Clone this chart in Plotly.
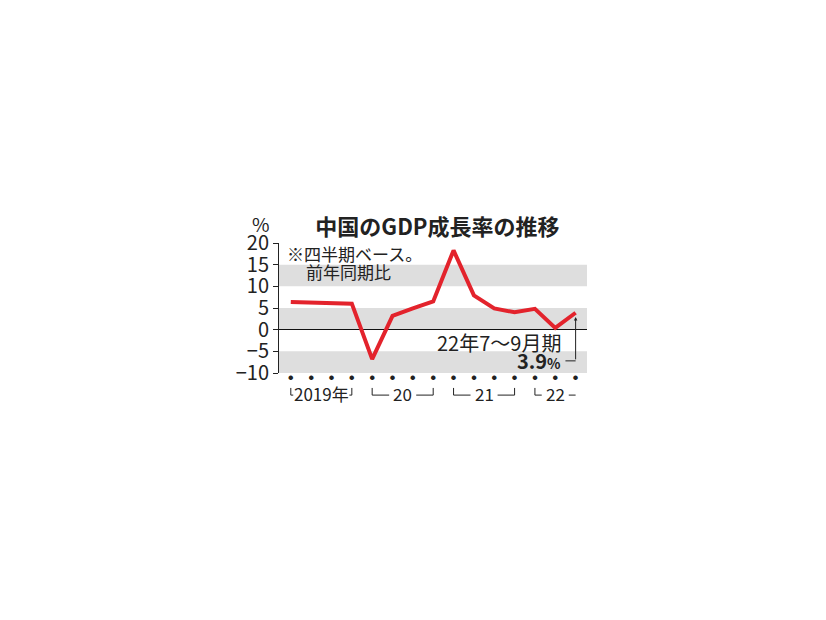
import plotly.graph_objects as go

# ---- data ----
quarters = ["2019Q1", "2019Q2", "2019Q3", "2019Q4",
            "2020Q1", "2020Q2", "2020Q3", "2020Q4",
            "2021Q1", "2021Q2", "2021Q3", "2021Q4",
            "2022Q1", "2022Q2", "2022Q3"]
growth = [6.4, 6.2, 6.0, 6.0,
          -6.8, 3.2, 4.9, 6.5,
          18.3, 7.9, 4.9, 4.0,
          4.8, 0.4, 3.9]
year_labels = ["2019年", "20", "21", "22"]
year_start = [0, 4, 8, 12]
year_end = [3, 7, 11, 14]
year_closed = [True, True, True, False]
y_ticks = [20, 15, 10, 5, 0, -5, -10]
band_lo = [10, 0, -10]
band_hi = [15, 5, -5]

FONT = "Noto Sans CJK JP"
RED = "#e3232c"
GRAY = "#dedede"
INK = "#222222"

# page body has an 8px margin; figure is sized to fill the rest
W, H = 818, 612
ML, MR, MT, MB = 271, 239, 235, 247
x = list(range(len(quarters)))
x_range = [-0.58, len(x) - 1 + 0.56]
px_per_unit = (W - ML - MR) / (x_range[1] - x_range[0])

fig = go.Figure()
fig.add_trace(go.Scatter(
    x=x, y=growth, mode="lines",
    line=dict(color=RED, width=4),
    hoverinfo="skip", showlegend=False,
))

shapes = []
for lo, hi in zip(band_lo, band_hi):
    shapes.append(dict(type="rect", xref="paper", yref="y", x0=0, x1=1,
                       y0=lo, y1=hi, fillcolor=GRAY, line=dict(width=0),
                       layer="below"))

annotations = []
# year brackets
YFS = 17
yb_line = -0.17
yb_top = -0.115
for lab, s, e, closed in zip(year_labels, year_start, year_end, year_closed):
    c = (s + e) / 2
    wpx = sum(0.56 * YFS if ch.isdigit() else 1.0 * YFS for ch in lab)
    half = (wpx / 2 + 4) / px_per_unit
    gap_l = max(c - half, s + 0.12)
    gap_r = min(c + half, e - 0.12)
    line = dict(color=INK, width=1)
    shapes.append(dict(type="line", xref="x", yref="paper", x0=s, x1=s,
                       y0=yb_top, y1=yb_line, line=line))
    shapes.append(dict(type="line", xref="x", yref="paper", x0=s, x1=gap_l,
                       y0=yb_line, y1=yb_line, line=line))
    shapes.append(dict(type="line", xref="x", yref="paper", x0=gap_r, x1=e,
                       y0=yb_line, y1=yb_line, line=line))
    if closed:
        shapes.append(dict(type="line", xref="x", yref="paper", x0=e, x1=e,
                           y0=yb_top, y1=yb_line, line=line))
    annotations.append(dict(x=c, y=-0.155, xref="x", yref="paper", text=lab,
                            showarrow=False, xanchor="center", yanchor="middle",
                            font=dict(family=FONT, size=YFS, color=INK)))

# last value callout
last_i = x[-1]
last_v = growth[-1]
text_right = last_i - 0.6
label_y = -7.2
shapes.append(dict(type="line", xref="x", yref="y", x0=text_right + 0.1, x1=last_i,
                   y0=label_y, y1=label_y, line=dict(color=INK, width=1)))
annotations.append(dict(x=last_i, y=last_v - 1.0, xref="x", yref="y",
                        ax=last_i, ay=label_y, axref="x", ayref="y",
                        showarrow=True, arrowhead=2, arrowsize=0.7, arrowwidth=1,
                        arrowcolor=INK, text=""))
annotations.append(dict(x=text_right, y=-3.0, xref="x", yref="y",
                        text="22年7～9月期", showarrow=False, xanchor="right",
                        yanchor="middle", font=dict(family=FONT, size=20, color=INK)))
annotations.append(dict(x=text_right, y=label_y, xref="x", yref="y",
                        text=f"<b>{last_v}<span style='font-size:14px'>%</span></b>",
                        showarrow=False, xanchor="right", yanchor="middle",
                        font=dict(family=FONT, size=20, color=INK)))

# notes and unit
annotations.append(dict(x=-0.06, y=1.15, xref="paper", yref="paper", text="%",
                        showarrow=False, xanchor="center", yanchor="middle",
                        font=dict(family=FONT, size=19, color=INK)))
annotations.append(dict(x=0.02, y=0.923, xref="paper", yref="paper",
                        text="※四半期ベース。", showarrow=False, xanchor="left",
                        yanchor="middle", font=dict(family=FONT, size=17, color=INK)))
annotations.append(dict(x=0.08, y=0.777, xref="paper", yref="paper",
                        text="前年同期比", showarrow=False, xanchor="left",
                        yanchor="middle", font=dict(family=FONT, size=17, color=INK)))

fig.update_layout(
    width=W, height=H,
    margin=dict(l=ML, r=MR, t=MT, b=MB, pad=0, autoexpand=False),
    paper_bgcolor="white", plot_bgcolor="white",
    title=dict(text="<b>中国のGDP成長率の推移</b>", x=0.525, xanchor="center",
               y=1 - (227 - 8) / H, yanchor="middle", yref="container",
               font=dict(family=FONT, size=22, color=INK)),
    shapes=shapes, annotations=annotations,
    xaxis=dict(range=x_range, showgrid=False, zeroline=False,
               showline=False, tickmode="array", tickvals=x,
               ticktext=["●"] * len(x), ticks="", ticklabelstandoff=0,
               tickfont=dict(family=FONT, size=5, color=INK), fixedrange=True),
    yaxis=dict(range=[-10, 20], tickmode="array", tickvals=y_ticks,
               showgrid=False, zeroline=True, zerolinecolor="#111111",
               zerolinewidth=1, showline=True, linecolor=INK, linewidth=1,
               ticks="outside", ticklen=5, tickcolor=INK, tickwidth=1,
               tickfont=dict(family=FONT, size=20, color=INK),
               ticklabelstandoff=0, fixedrange=True),
)

fig.write_html("out.html")
